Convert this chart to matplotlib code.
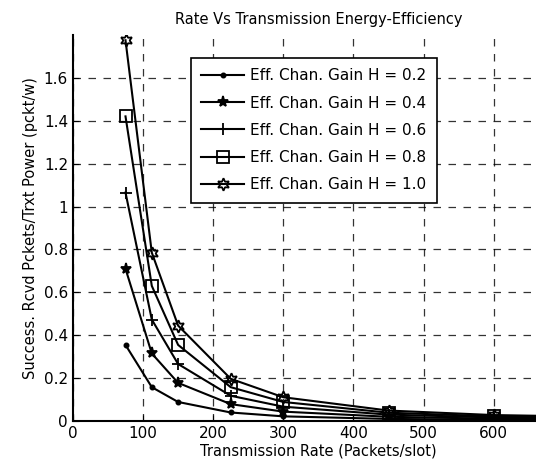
import matplotlib
matplotlib.use('Agg')
import matplotlib.pyplot as plt

# Data
rate = [75, 112.5, 150, 225, 300, 450, 600, 900]
gain_02 = [0.355, 0.158, 0.089, 0.040, 0.022, 0.010, 0.006, 0.003]
gain_04 = [0.710, 0.315, 0.178, 0.079, 0.044, 0.020, 0.011, 0.005]
gain_06 = [1.065, 0.473, 0.266, 0.118, 0.067, 0.030, 0.017, 0.007]
gain_08 = [1.420, 0.630, 0.355, 0.158, 0.089, 0.039, 0.022, 0.010]
gain_10 = [1.775, 0.785, 0.445, 0.197, 0.111, 0.049, 0.028, 0.012]
labels = ['Eff. Chan. Gain H = 0.2', 'Eff. Chan. Gain H = 0.4',
          'Eff. Chan. Gain H = 0.6', 'Eff. Chan. Gain H = 0.8',
          'Eff. Chan. Gain H = 1.0']

plt.rcParams['font.family'] = ['DejaVu Sans']
plt.rcParams['font.size'] = 10

fig = plt.figure(figsize=(5.36, 4.71), dpi=100)
ax = fig.add_axes([0.136, 0.106, 0.916, 0.820])

series = [gain_02, gain_04, gain_06, gain_08, gain_10]
markers = ['.', '*', '+', 's', (6, 1, 0)]
msizes = [6, 8, 8, 8, 9]
faces = ['black', 'black', 'none', 'none', 'none']
for vals, lab, m, ms, fc in zip(series, labels, markers, msizes, faces):
    ax.plot(rate, vals, color='black', linewidth=1.5, marker=m, markersize=ms,
            markerfacecolor=fc, markeredgecolor='black', markeredgewidth=1.3,
            label=lab)

ax.set_xlim(0, 700)
ax.set_ylim(0, 1.8)
ax.set_xticks(range(0, 601, 100))
ax.set_yticks([0, 0.2, 0.4, 0.6, 0.8, 1, 1.2, 1.4, 1.6])
ax.set_yticklabels(['0', '0.2', '0.4', '0.6', '0.8', '1', '1.2', '1.4', '1.6'])
ax.tick_params(direction='in', length=4, labelsize=11)
ax.grid(True, color='black', linestyle=(0, (6, 6)), linewidth=0.9, alpha=0.8)
ax.spines['top'].set_visible(False)
ax.spines['left'].set_linewidth(1.5)
ax.spines['bottom'].set_linewidth(1.5)

ax.set_title('Rate Vs Transmission Energy-Efficiency', fontsize=10.5, pad=8)
ax.set_xlabel('Transmission Rate (Packets/slot)', fontsize=10.5, labelpad=2)
ax.set_ylabel('Success. Rcvd Pckets/Trxt Power (pckt/w)', fontsize=10.5)

leg = ax.legend(loc='upper left', bbox_to_anchor=(183 / 536, 1 - 50 / 471),
                bbox_transform=fig.transFigure, fontsize=11, frameon=True,
                fancybox=False, framealpha=1, edgecolor='black',
                handlelength=2.8, borderpad=0.7, labelspacing=0.8,
                handletextpad=0.4)
leg.get_frame().set_linewidth(1.2)

fig.savefig('out.png', dpi=100)
